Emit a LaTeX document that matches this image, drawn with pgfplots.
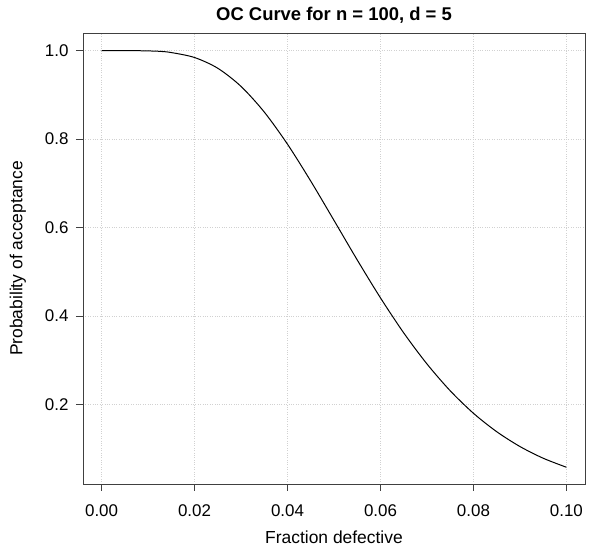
\documentclass[border=0pt]{standalone}
\usepackage{fontspec}
\setmainfont{Liberation Sans}
\usepackage{pgfplots}
\pgfplotsset{compat=1.18}

\begin{document}
\begin{tikzpicture}
\begin{axis}[
  scale only axis,
  width=502bp, height=451bp,
  xmin=-0.004, xmax=0.104,
  ymin=0.0197, ymax=1.040,
  xtick={0,0.02,0.04,0.06,0.08,0.1},
  ytick={0.2,0.4,0.6,0.8,1.0},
  xticklabel style={/pgf/number format/.cd,fixed,fixed zerofill,precision=2},
  yticklabel style={/pgf/number format/.cd,fixed,fixed zerofill,precision=1},
  /pgf/number format/assume math mode=true,
  scaled x ticks=false,
  tick label style={font=\fontsize{17}{20}\selectfont},
  label style={font=\fontsize{17.5}{20}\selectfont},
  title style={font=\bfseries\fontsize{18.5}{22}\selectfont},
  title={OC Curve for n = 100, d = 5},
  xlabel={Fraction defective},
  ylabel={Probability of acceptance},
  xtick pos=bottom, ytick pos=left,
  tick align=outside,
  major tick length=7bp,
  xticklabel shift=10bp, yticklabel shift=4bp,
  xlabel style={yshift=-8bp},
  ylabel style={yshift=12bp},
  axis line style={black!75, line width=0.7pt},
  tick style={black!75, line width=0.7pt},
  grid=major,
  grid style={black!18, dotted, line width=0.6pt},
  clip=false,
]
\addplot[black, line width=1pt, smooth, tension=0.5] coordinates {
  (0.000,1.00000) (0.0025,1.00000) (0.005,0.99996) (0.0075,0.99998)
  (0.010,0.99947) (0.0125,0.99850) (0.015,0.99576) (0.020,0.98452)
  (0.025,0.96022) (0.030,0.91914) (0.035,0.86114) (0.040,0.78833)
  (0.045,0.70488) (0.050,0.61606) (0.055,0.52655) (0.060,0.44075)
  (0.065,0.36155) (0.070,0.29134) (0.075,0.23062) (0.080,0.17970)
  (0.085,0.13806) (0.090,0.10452) (0.095,0.07803) (0.100,0.05762)
};
\coordinate (sw) at (rel axis cs:0,0);
\coordinate (ne) at (rel axis cs:1,1);
\end{axis}
\pgfresetboundingbox
\path ([shift={(-83bp,-64bp)}]sw) rectangle ([shift={(4bp,33bp)}]ne);
\end{tikzpicture}
\end{document}
